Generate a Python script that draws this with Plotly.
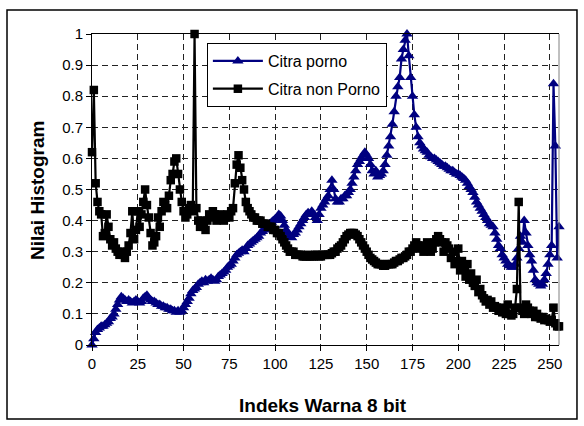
import plotly.graph_objects as go

indeks = list(range(256))

citra_porno = [
    0.00, 0.02, 0.04, 0.05, 0.055, 0.06, 0.06, 0.065, 0.07, 0.075,
    0.085, 0.09, 0.10, 0.115, 0.13, 0.145, 0.155, 0.15, 0.145, 0.14,
    0.145, 0.14, 0.135, 0.14, 0.145, 0.14, 0.135, 0.14, 0.15, 0.155,
    0.16, 0.15, 0.145, 0.14, 0.14, 0.135, 0.13, 0.13, 0.125, 0.125,
    0.12, 0.12, 0.115, 0.115, 0.11, 0.11, 0.105, 0.11, 0.105, 0.11,
    0.12, 0.13, 0.14, 0.15, 0.165, 0.175, 0.18, 0.185, 0.195, 0.20,
    0.205, 0.20, 0.21, 0.205, 0.21, 0.215, 0.21, 0.205, 0.21, 0.22,
    0.225, 0.23, 0.235, 0.24, 0.25, 0.255, 0.26, 0.27, 0.28, 0.29,
    0.295, 0.30, 0.305, 0.30, 0.31, 0.32, 0.325, 0.33, 0.335, 0.34,
    0.345, 0.35, 0.36, 0.365, 0.37, 0.375, 0.38, 0.39, 0.395, 0.40,
    0.405, 0.41, 0.42, 0.415, 0.40, 0.385, 0.37, 0.36, 0.35, 0.345,
    0.355, 0.36, 0.37, 0.38, 0.39, 0.40, 0.41, 0.42, 0.425, 0.42,
    0.43, 0.42, 0.41, 0.40, 0.42, 0.44, 0.45, 0.46, 0.47, 0.48,
    0.50, 0.53, 0.50, 0.47, 0.46, 0.46, 0.47, 0.47, 0.48, 0.48,
    0.49, 0.50, 0.52, 0.54, 0.56, 0.58, 0.59, 0.60, 0.61, 0.62,
    0.61, 0.60, 0.58, 0.56, 0.55, 0.56, 0.54, 0.545, 0.55, 0.56,
    0.58, 0.61, 0.64, 0.67, 0.71, 0.75, 0.80, 0.83, 0.86, 0.92,
    0.95, 0.98, 1.00, 0.93, 0.86, 0.80, 0.74, 0.70, 0.67, 0.65,
    0.64, 0.63, 0.625, 0.62, 0.61, 0.605, 0.60, 0.60, 0.595, 0.59,
    0.585, 0.58, 0.575, 0.575, 0.57, 0.565, 0.56, 0.56, 0.555, 0.55,
    0.55, 0.545, 0.54, 0.535, 0.53, 0.52, 0.51, 0.50, 0.49, 0.475,
    0.46, 0.45, 0.44, 0.43, 0.42, 0.41, 0.40, 0.39, 0.385, 0.38,
    0.36, 0.34, 0.32, 0.31, 0.29, 0.28, 0.27, 0.26, 0.255, 0.25,
    0.25, 0.26, 0.28, 0.31, 0.35, 0.33, 0.40, 0.36, 0.32, 0.29,
    0.27, 0.24, 0.21, 0.20, 0.195, 0.19, 0.195, 0.21, 0.23, 0.26,
    0.29, 0.32, 0.84, 0.64, 0.28, 0.38,
]

citra_non_porno = [
    0.62, 0.82, 0.52, 0.46, 0.43, 0.42, 0.35, 0.36, 0.42, 0.38,
    0.34, 0.32, 0.33, 0.31, 0.30, 0.29, 0.30, 0.29, 0.28, 0.30,
    0.32, 0.36, 0.43, 0.34, 0.37, 0.43, 0.38, 0.42, 0.46, 0.50,
    0.45, 0.41, 0.36, 0.32, 0.33, 0.35, 0.41, 0.38, 0.43, 0.46,
    0.45, 0.44, 0.48, 0.53, 0.55, 0.59, 0.60, 0.55, 0.50, 0.46,
    0.43, 0.41, 0.42, 0.44, 0.45, 0.43, 1.00, 0.44, 0.40, 0.38,
    0.40, 0.38, 0.37, 0.40, 0.42, 0.41, 0.43, 0.42, 0.40, 0.41,
    0.42, 0.41, 0.40, 0.41, 0.42, 0.41, 0.43, 0.44, 0.52, 0.58,
    0.61, 0.57, 0.53, 0.50, 0.46, 0.44, 0.43, 0.42, 0.41, 0.41,
    0.40, 0.40, 0.40, 0.39, 0.39, 0.39, 0.38, 0.38, 0.38, 0.37,
    0.37, 0.36, 0.36, 0.35, 0.34, 0.33, 0.32, 0.31, 0.30, 0.30,
    0.30, 0.29, 0.29, 0.29, 0.29, 0.285, 0.285, 0.285, 0.29, 0.285,
    0.285, 0.285, 0.29, 0.29, 0.285, 0.285, 0.29, 0.29, 0.29, 0.29,
    0.29, 0.295, 0.30, 0.30, 0.31, 0.315, 0.32, 0.33, 0.34, 0.35,
    0.355, 0.36, 0.36, 0.36, 0.355, 0.35, 0.34, 0.33, 0.32, 0.31,
    0.30, 0.29, 0.28, 0.275, 0.27, 0.265, 0.26, 0.26, 0.26, 0.255,
    0.255, 0.26, 0.26, 0.26, 0.26, 0.265, 0.27, 0.27, 0.275, 0.28,
    0.28, 0.285, 0.29, 0.30, 0.30, 0.31, 0.32, 0.33, 0.32, 0.31,
    0.32, 0.30, 0.31, 0.33, 0.32, 0.30, 0.31, 0.33, 0.34, 0.35,
    0.34, 0.33, 0.30, 0.33, 0.32, 0.31, 0.28, 0.30, 0.26, 0.27,
    0.31, 0.24, 0.27, 0.25, 0.22, 0.26, 0.21, 0.23, 0.20, 0.19,
    0.21, 0.17, 0.18, 0.16, 0.15, 0.14, 0.145, 0.13, 0.14, 0.12,
    0.125, 0.12, 0.11, 0.12, 0.105, 0.11, 0.10, 0.13, 0.10, 0.095,
    0.10, 0.12, 0.18, 0.46, 0.12, 0.11, 0.10, 0.13, 0.12, 0.11,
    0.10, 0.11, 0.09, 0.10, 0.09, 0.085, 0.09, 0.08, 0.085, 0.08,
    0.075, 0.08, 0.12, 0.07, 0.06, 0.06,
]

x_ticks = [0, 25, 50, 75, 100, 125, 150, 175, 200, 225, 250]
y_ticks = [0, 0.1, 0.2, 0.3, 0.4, 0.5, 0.6, 0.7, 0.8, 0.9, 1]
y_tick_labels = ["0", "0.1", "0.2", "0.3", "0.4", "0.5", "0.6", "0.7", "0.8", "0.9", "1"]

FONT = "Liberation Sans, Arial, sans-serif"

fig = go.Figure()
fig.add_trace(go.Scatter(
    x=indeks, y=citra_porno, name="Citra porno", mode="lines+markers",
    line=dict(color="#000080", width=2.2),
    marker=dict(symbol="triangle-up", size=10, color="#000080"),
    cliponaxis=False, legendgroup="a",
))
fig.add_trace(go.Scatter(
    x=indeks, y=citra_non_porno, name="Citra non Porno", mode="lines+markers",
    line=dict(color="#000000", width=2.2),
    marker=dict(symbol="square", size=8.5, color="#000000"),
    cliponaxis=False, legendgroup="b",
))

fig.update_layout(
    width=584, height=426,
    margin=dict(l=92, r=25, t=34, b=81),
    paper_bgcolor="white", plot_bgcolor="white",
    font=dict(family=FONT, size=15, color="black"),
    showlegend=True,
    legend=dict(
        x=0.246, y=0.971, xanchor="left", yanchor="top",
        bgcolor="white", bordercolor="black", borderwidth=1,
        font=dict(size=16, family=FONT), tracegroupgap=4,
        itemwidth=50,
    ),
    xaxis=dict(
        range=[0, 255], tickvals=x_ticks, ticktext=[str(v) for v in x_ticks],
        showline=True, linecolor="black", linewidth=1, mirror=True,
        ticks="outside", ticklen=5, tickcolor="black",
        showgrid=True, gridcolor="#222222", gridwidth=1, griddash="6px,4px",
        zeroline=False, tickfont=dict(size=15),
    ),
    yaxis=dict(
        range=[0, 1], tickvals=y_ticks, ticktext=y_tick_labels,
        showline=True, linecolor="black", linewidth=1,
        ticks="outside", ticklen=5, tickcolor="black",
        showgrid=True, gridcolor="#222222", gridwidth=1, griddash="6px,4px",
        zeroline=False, tickfont=dict(size=15),
    ),
    shapes=[
        dict(type="line", xref="paper", yref="paper", x0=1, x1=1, y0=0, y1=1,
             line=dict(color="#808080", width=1)),
        dict(type="rect", xref="paper", yref="paper",
             x0=-0.182, x1=1.0385, y0=-0.238, y1=1.077,
             line=dict(color="black", width=1.5)),
    ],
    annotations=[
        dict(text="<b>Indeks Warna 8 bit</b>", xref="paper", yref="paper",
             x=0.4946, y=-0.193, xanchor="center", yanchor="middle",
             showarrow=False, font=dict(size=19, family=FONT)),
        dict(text="<b>Nilai Histogram</b>", xref="paper", yref="paper",
             x=-0.118, y=0.498, xanchor="center", yanchor="middle",
             textangle=-90, showarrow=False, font=dict(size=19, family=FONT)),
    ],
)

fig.write_html("out.html", config={"displayModeBar": False},
               post_script="document.body.style.margin='0';")
